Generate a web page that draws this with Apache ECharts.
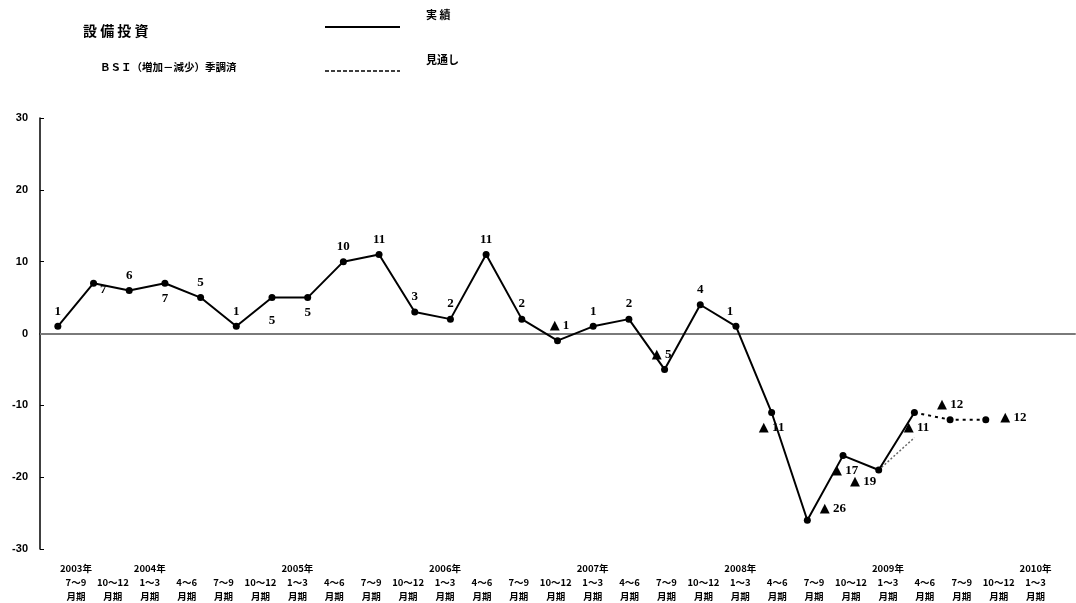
<!DOCTYPE html>
<html>
<head>
<meta charset="utf-8">
<script src="https://cdn.jsdelivr.net/npm/echarts@6/dist/echarts.min.js"></script>
<style>
  html, body { margin: 0; padding: 0; background: #fff; }
  #chart { width: 1076px; height: 603px; }
</style>
</head>
<body>
<div id="chart"></div>
<script>
// quarters, 2003 7~9 .. 2010 1~3
var years = ['2003年', '', '2004年', '', '', '', '2005年', '', '', '', '2006年', '', '', '', '2007年', '', '', '', '2008年', '', '', '', '2009年', '', '', '', '2010年']
var months = ['7～9', '10～12', '1～3', '4～6', '7～9', '10～12', '1～3', '4～6', '7～9', '10～12', '1～3', '4～6', '7～9', '10～12',
  '1～3', '4～6', '7～9', '10～12', '1～3', '4～6', '7～9', '10～12', '1～3', '4～6', '7～9', '10～12', '1～3']

// 実績 (index 0..24)
var actual = [1, 7, 6, 7, 5, 1, 5, 5, 10, 11, 3, 2, 11, 2, -1, 1, 2, -5, 4, 1, -11, -26, -17, -19, -11]
// 見通し (from index 24)
var forecast = [-11, -12, -12]
var forecastStart = 24
// short dotted stub from 2009 1~3
var stub = [-19, -14.5]
var stubStart = 23

var yTicks = { min: -30, max: 30, interval: 10 }

// label placement: [position, dx, dy]
var actualLabelPos = [
  ['top', 0, 0], ['right', -2, 6], ['top', 0, 0], ['bottom', 0, 0], ['top', 0, 0],
  ['top', 0, 0], ['bottom', 0, 8], ['bottom', 0, 0], ['top', 0, 0], ['top', 0, 0],
  ['top', 0, 0], ['top', 0, 0], ['top', 0, 0], ['top', 0, 0], ['top', 2, 0],
  ['top', 0, 0], ['top', 0, 0], ['top', -3, 0], ['top', 0, 0], ['top', -6, 0],
  ['bottom', 0, 0], ['right', 4, -12], ['bottom', 2, 0], ['left', 6, 12], ['bottom', 2, 0]
]
var forecastLabelPos = [null, ['top', 0, 0], ['right', 6, -2]]

var categories = years.map(function (y, i) {
  return (y || ' ') + '\n' + months[i] + '\n月期'
})
var N = categories.length
var padded = categories.concat(['', ''])

function fmt(v) {
  return v < 0 ? '{t|▲} ' + Math.abs(v) : String(v)
}

var labelRich = {
  t: { fontFamily: 'DejaVu Sans', fontSize: 13, color: '#000' }
}

function mkLabel(v, p) {
  return {
    show: true,
    position: p[0],
    offset: [p[1], p[2]],
    distance: 5,
    formatter: fmt(v),
    fontFamily: 'Liberation Serif',
    fontWeight: 'bold',
    fontSize: 13,
    color: '#000',
    rich: labelRich
  }
}

var actualData = actual.map(function (v, i) {
  return { value: v, label: mkLabel(v, actualLabelPos[i]) }
})

var forecastData = []
for (var i = 0; i < N; i++) forecastData.push(null)
forecast.forEach(function (v, k) {
  var p = forecastLabelPos[k]
  forecastData[forecastStart + k] = p
    ? { value: v, label: mkLabel(v, p) }
    : { value: v, symbol: 'none', label: { show: false } }
})

var stubData = []
for (var j = 0; j < N; j++) stubData.push(null)
stub.forEach(function (v, k) { stubData[stubStart + k] = v })

var chart = echarts.init(document.getElementById('chart'))

chart.setOption({
  backgroundColor: '#fff',
  animation: false,
  graphic: [
    { type: 'text', left: 83, top: 24, style: { text: '設 備 投 資', font: 'bold 14px "Noto Sans CJK JP"', fill: '#000' } },
    { type: 'text', left: 100, top: 62, style: { text: 'ＢＳＩ（増加－減少）季調済', font: 'bold 10.5px "Noto Sans CJK JP"', fill: '#000' } },
    { type: 'line', shape: { x1: 325, y1: 27, x2: 400, y2: 27 }, style: { stroke: '#000', lineWidth: 2 } },
    { type: 'line', shape: { x1: 325, y1: 71, x2: 400, y2: 71 }, style: { stroke: '#000', lineWidth: 1.5, lineDash: [4, 2] } },
    { type: 'text', left: 426, top: 9, style: { text: '実 績', font: 'bold 11px "Noto Sans CJK JP"', fill: '#000' } },
    { type: 'text', left: 426, top: 54, style: { text: '見通し', font: 'bold 11px "Noto Sans CJK JP"', fill: '#000' } }
  ],
  grid: [
    { left: 40, right: 1, top: 118, bottom: 54 },
    { left: 57.5, right: 22, top: 118, bottom: 54 }
  ],
  xAxis: [
    {
      type: 'category',
      gridIndex: 0,
      data: padded,
      boundaryGap: true,
      axisLine: { lineStyle: { color: '#000', width: 1.5 } },
      axisTick: { show: false },
      axisLabel: { show: false },
      splitLine: { show: false }
    },
    {
      type: 'category',
      gridIndex: 1,
      data: categories,
      boundaryGap: true,
      axisLine: { show: false },
      axisTick: { show: false },
      axisLabel: {
        interval: 0,
        margin: 12,
        lineHeight: 14,
        fontFamily: 'Noto Sans CJK JP',
        fontWeight: 'bold',
        fontSize: 9.5,
        color: '#000'
      },
      splitLine: { show: false }
    }
  ],
  yAxis: [
    {
      type: 'value',
      gridIndex: 0,
      min: yTicks.min,
      max: yTicks.max,
      interval: yTicks.interval,
      axisLine: { show: true, lineStyle: { color: '#000', width: 1.5 } },
      axisTick: { show: true, inside: true, length: 4, lineStyle: { color: '#000' } },
      axisLabel: {
        margin: 12,
        fontFamily: 'Liberation Sans',
        fontWeight: 'bold',
        fontSize: 11,
        color: '#000'
      },
      splitLine: { show: false }
    },
    {
      type: 'value',
      gridIndex: 1,
      min: yTicks.min,
      max: yTicks.max,
      show: false
    }
  ],
  series: [
    {
      name: '実績',
      type: 'line',
      xAxisIndex: 0,
      yAxisIndex: 0,
      data: actualData,
      symbol: 'circle',
      symbolSize: 7,
      lineStyle: { color: '#000', width: 2 },
      itemStyle: { color: '#000' },
      z: 3,
      markLine: {
        silent: true,
        symbol: 'none',
        label: { show: false },
        lineStyle: { color: '#7a7a7a', width: 2, type: 'solid' },
        data: [{ yAxis: 0 }],
        z: 1
      }
    },
    {
      name: '見通し',
      type: 'line',
      xAxisIndex: 0,
      yAxisIndex: 0,
      data: forecastData,
      symbol: 'circle',
      symbolSize: 7,
      lineStyle: { color: '#000', width: 2, type: [3, 4] },
      itemStyle: { color: '#000' },
      z: 3
    },
    {
      name: 'stub',
      type: 'line',
      xAxisIndex: 0,
      yAxisIndex: 0,
      data: stubData,
      symbol: 'none',
      lineStyle: { color: '#666', width: 1.5, type: [2, 2] },
      z: 2
    }
  ]
})
</script>
</body>
</html>
